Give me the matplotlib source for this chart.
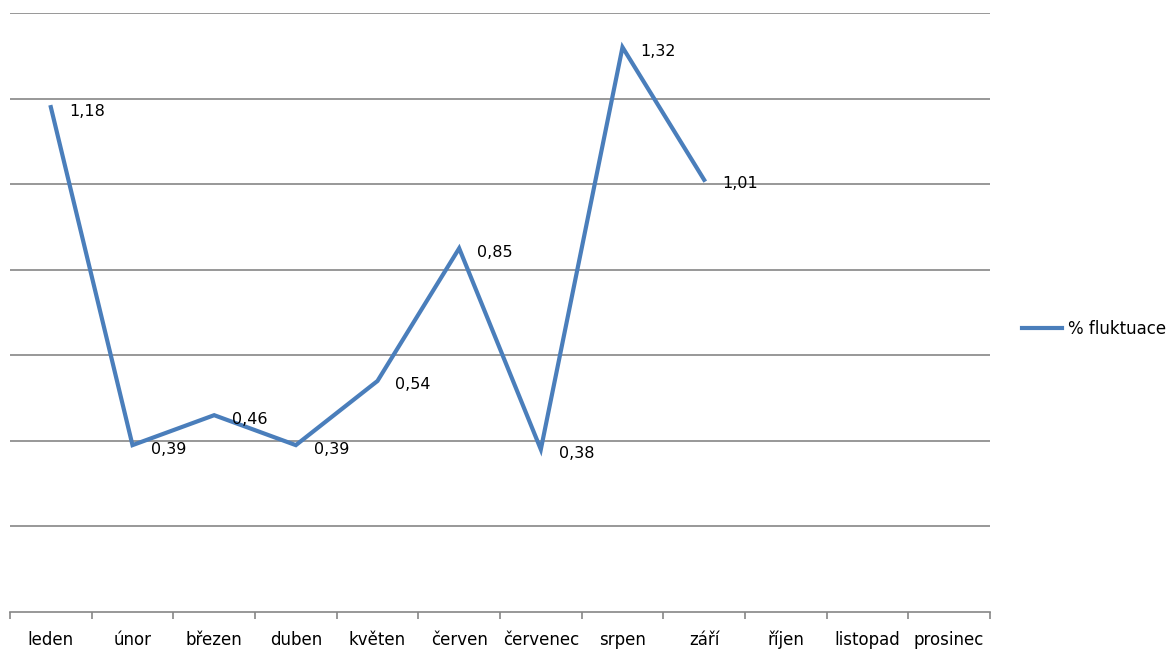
import numpy as np
import matplotlib.pyplot as plt

# data
months = ["leden", "únor", "březen", "duben", "květen", "červen",
          "červenec", "srpen", "září", "říjen", "listopad", "prosinec"]
values = [1.18, 0.39, 0.46, 0.39, 0.54, 0.85, 0.38, 1.32, 1.01]
labels = ["1,18", "0,39", "0,46", "0,39", "0,54", "0,85", "0,38", "1,32", "1,01"]

LINE = "#4A7EBB"
GRID = "#868686"
plt.rcParams["font.family"] = ["DejaVu Sans"]

fig = plt.figure(figsize=(11.72, 6.53), dpi=100)
ax = fig.add_axes([10 / 1172, 41 / 653, 980 / 1172, 599 / 653])

x = np.arange(len(values))
ax.plot(x, values, color=LINE, lw=3, solid_joinstyle="miter", label="% fluktuace")

for xi, v, t in zip(x, values, labels):
    ax.annotate(t, (xi, v), xytext=(18, -4), textcoords="offset pixels",
                ha="left", va="center", fontsize=11.5, color="#000000")

ax.set_xlim(-0.5, len(months) - 0.5)
ax.set_ylim(0, 1.4)
for gy in np.arange(0.2, 1.41, 0.2):
    ax.axhline(gy, color=GRID, lw=1.2, zorder=0)

ax.set_yticks([])
ax.set_xticks(np.arange(-0.5, len(months)), minor=False)
ax.set_xticklabels([])
ax.set_xticks(np.arange(len(months)), minor=True)
ax.set_xticklabels(months, minor=True, fontsize=12)
ax.tick_params(axis="x", which="major", length=5, color=GRID, width=1.2, direction="out")
ax.tick_params(axis="x", which="minor", length=0, pad=23.5)
# align month names on a common baseline
for lbl in ax.get_xticklabels(minor=True):
    lbl.set_verticalalignment("baseline")

for s in ["top", "left", "right"]:
    ax.spines[s].set_visible(False)
ax.spines["bottom"].set_color(GRID)
ax.spines["bottom"].set_linewidth(1.2)

fig.legend(loc="center left", bbox_to_anchor=(1007 / 1172, 1 - 329 / 653),
           frameon=False, fontsize=12, handlelength=2.4, handletextpad=0.35)

fig.savefig("out.png", dpi=100)
